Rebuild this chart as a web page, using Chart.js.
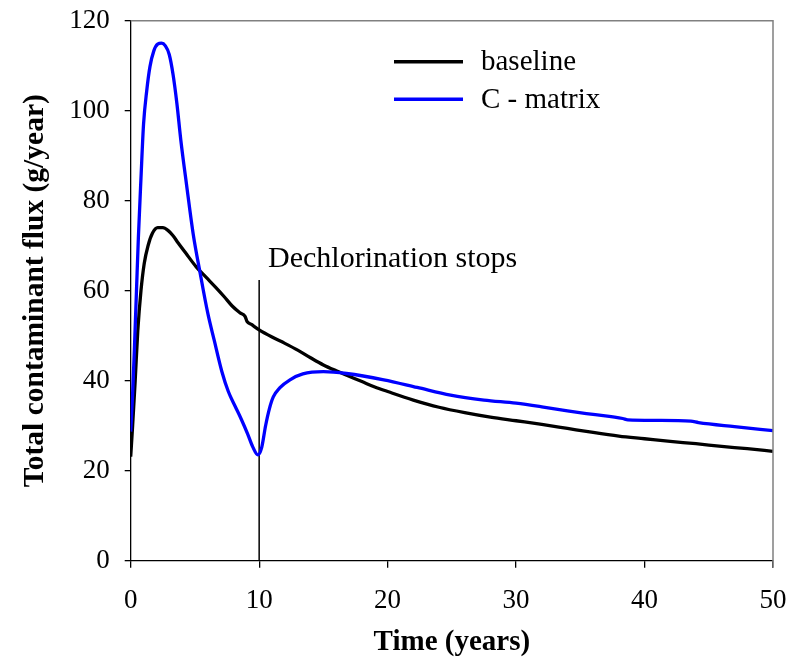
<!DOCTYPE html>
<html>
<head>
<meta charset="utf-8">
<script src="https://cdn.jsdelivr.net/npm/chart.js@4.4.1/dist/chart.umd.min.js"></script>
<style>
html,body{margin:0;padding:0;background:#fff;}
#wrap{width:791px;height:662px;}
</style>
</head>
<body>
<div id="wrap"><canvas id="c" width="791" height="662"></canvas></div>
<script>
// ---- data ----
const baselineTime = [0, 0.15, 0.35, 0.55, 0.8, 1.05, 1.35, 1.7, 2.1, 2.5, 2.9, 3.3, 3.7, 4.3, 5.1, 5.9, 6.6, 7.3, 7.9, 8.5, 8.9, 9.05, 9.4, 10, 11, 12, 13, 14, 15, 16, 17, 18, 19, 20, 22, 24, 26, 28, 30, 32, 34, 36, 38, 40, 42, 44, 46, 48, 50];
const baselineFlux = [23.1, 30, 40, 51, 60, 66, 70, 72.8, 74, 74, 73.4, 72.2, 70.6, 68.3, 65.3, 62.9, 60.8, 58.6, 56.6, 55.1, 54.3, 53.2, 52.5, 51.3, 49.7, 48.3, 46.8, 45.1, 43.5, 42.2, 41.0, 39.8, 38.6, 37.6, 35.7, 34.1, 32.9, 31.9, 31.1, 30.3, 29.4, 28.5, 27.7, 27.1, 26.5, 26.0, 25.4, 24.9, 24.3];

const cmatrixTime = [0, 0.15, 0.3, 0.45, 0.6, 0.8, 1.0, 1.25, 1.5, 1.8, 2.1, 2.4, 2.7, 3.0, 3.3, 3.6, 3.9, 4.35, 4.87, 5.4, 6.0, 6.5, 7.1, 7.6, 8.1, 8.6, 9.1, 9.5, 9.9, 10.2, 10.5, 10.8, 11.1, 11.6, 12.4, 13.4, 15.0, 16.8, 19.7, 22.3, 24.9, 27.5, 30, 32, 34, 36, 38.3, 38.7, 41, 43.6, 44.2, 47, 50];
const cmatrixFlux = [28.7, 37, 48, 60, 72, 85, 97, 104.5, 109.8, 113.3, 114.8, 115, 114.4, 112.5, 108, 101.5, 93.5, 83.5, 72.5, 64, 55, 49, 42, 37.6, 34.5, 31.5, 28.2, 25.3, 23.5, 25.2, 30, 33.8, 36.4, 38.4, 40.2, 41.5, 42.0, 41.6, 40.2, 38.5, 36.8, 35.7, 35.0, 34.2, 33.3, 32.5, 31.6, 31.3, 31.2, 31.0, 30.7, 29.8, 28.9];

const stopTime = [10, 10];
const stopFlux = [0, 62.4];
const stopLabel = 'Dechlorination stops';
const stopLabelPos = [10.69, 65.3];

const seriesNames = ['baseline', 'C - matrix'];
const xTicks = [0, 10, 20, 30, 40, 50];
const yTicks = [0, 20, 40, 60, 80, 100, 120];
const xTitle = 'Time (years)';
const yTitle = 'Total contaminant flux (g/year)';

const pts = (xs, ys) => xs.map((x, i) => ({x: x, y: ys[i]}));
const SERIF = "'Liberation Serif', 'Times New Roman', serif";

const frameAndText = {
  id: 'frameAndText',
  afterDatasetsDraw(chart) {
    const {ctx, chartArea: a, scales} = chart;
    ctx.save();
    // gray top and right frame
    ctx.strokeStyle = '#808080';
    ctx.lineWidth = 1.5;
    ctx.beginPath();
    ctx.moveTo(a.left, a.top);
    ctx.lineTo(a.right, a.top);
    ctx.lineTo(a.right, a.bottom + 7);
    ctx.stroke();
    // annotation text
    ctx.fillStyle = '#000';
    ctx.font = '30px ' + SERIF;
    ctx.textAlign = 'left';
    ctx.textBaseline = 'alphabetic';
    ctx.fillText(stopLabel, scales.x.getPixelForValue(stopLabelPos[0]), scales.y.getPixelForValue(stopLabelPos[1]));
    // legend
    const items = chart.data.datasets.filter(d => d.label);
    items.forEach((d, i) => {
      const y = 61.7 + i * 37.6;
      ctx.strokeStyle = d.borderColor;
      ctx.lineWidth = 3.5;
      ctx.beginPath();
      ctx.moveTo(394, y);
      ctx.lineTo(463, y);
      ctx.stroke();
      ctx.fillStyle = '#000';
      ctx.font = '29px ' + SERIF;
      ctx.textBaseline = 'middle';
      ctx.fillText(d.label, 481, y + 1);
    });
    ctx.restore();
  }
};

new Chart(document.getElementById('c'), {
  type: 'line',
  data: {
    datasets: [
      {label: seriesNames[0], data: pts(baselineTime, baselineFlux), borderColor: '#000000', borderWidth: 3.3, pointRadius: 0, cubicInterpolationMode: 'monotone', order: 1},
      {label: seriesNames[1], data: pts(cmatrixTime, cmatrixFlux), borderColor: '#0000ff', borderWidth: 3.3, pointRadius: 0, cubicInterpolationMode: 'monotone', order: 0},
      {label: '', data: pts(stopTime, stopFlux), borderColor: '#000000', borderWidth: 1.5, pointRadius: 0, order: 2}
    ]
  },
  options: {
    responsive: false,
    animation: false,
    devicePixelRatio: 1,
    layout: {padding: {top: 20.7, right: 18, left: 0, bottom: 0}},
    plugins: {legend: {display: false}, tooltip: {enabled: false}},
    scales: {
      x: {
        type: 'linear', min: 0, max: 50,
        afterFit: s => { s.height = 101.3; s.paddingLeft = 0; s.paddingRight = 0; },
        afterBuildTicks: s => { s.ticks = xTicks.map(v => ({value: v})); },
        border: {color: '#000', width: 1.3},
        grid: {drawOnChartArea: false, drawTicks: true, tickLength: 7, color: '#000', lineWidth: 1.3},
        ticks: {color: '#000', font: {family: SERIF, size: 27}, padding: 17, maxRotation: 0},
        title: {display: true, text: xTitle, color: '#000', font: {family: SERIF, size: 29, weight: 'bold'}, padding: {bottom: 2, top: 0}}
      },
      y: {
        type: 'linear', min: 0, max: 120,
        afterFit: s => { s.width = 130.7; s.paddingTop = 0; s.paddingBottom = 0; },
        afterBuildTicks: s => { s.ticks = yTicks.map(v => ({value: v})); },
        border: {color: '#000', width: 1.3},
        grid: {drawOnChartArea: false, drawTicks: true, tickLength: 6, color: '#000', lineWidth: 1.3},
        ticks: {color: '#000', font: {family: SERIF, size: 27}, padding: 15},
        title: {display: true, text: yTitle, color: '#000', font: {family: SERIF, size: 29.5, weight: 'bold'}, padding: {top: 18, bottom: 0}}
      }
    }
  },
  plugins: [frameAndText]
});
</script>
</body>
</html>
